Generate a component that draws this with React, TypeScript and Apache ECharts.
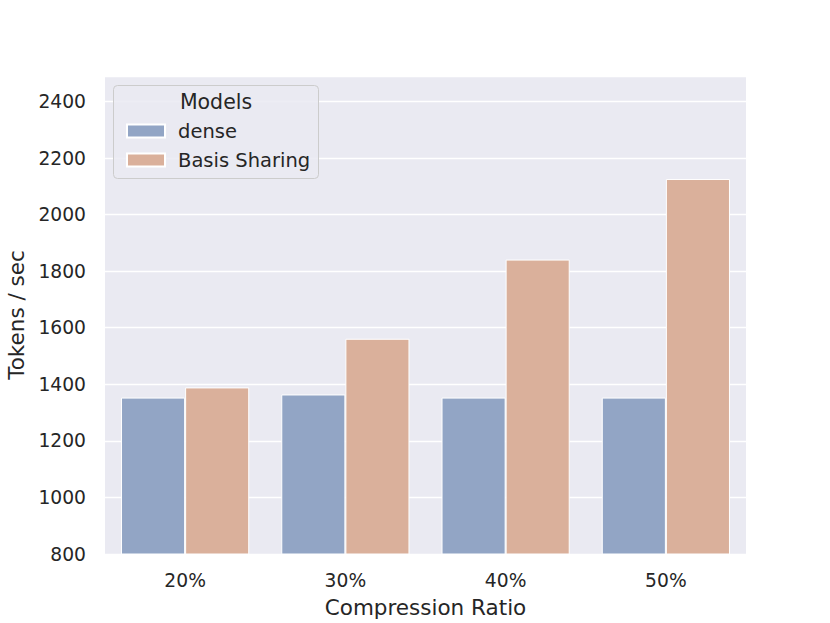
import React, { useEffect, useRef } from "react";
import * as echarts from "echarts";

const categories = ["20%", "30%", "40%", "50%"];
const denseValues = [1353, 1364, 1353, 1353];
const basisValues = [1389, 1561, 1841, 2126];
const seriesNames = ["dense", "Basis Sharing"];

const FONT = "DejaVu Sans";

export default function App() {
  const ref = useRef<HTMLDivElement>(null);
  useEffect(() => {
    if (!ref.current) return;
    const chart = echarts.init(ref.current, null, { renderer: "svg" });
    chart.setOption({
      animation: false,
      textStyle: { fontFamily: FONT },
      grid: {
        left: 105,
        right: 84,
        top: 76,
        bottom: 69,
        containLabel: false,
        outerBoundsMode: "none",
        backgroundColor: "#EAEAF2",
        show: true,
        borderWidth: 0,
      },
      xAxis: {
        type: "category",
        data: categories,
        name: "Compression Ratio",
        nameLocation: "middle",
        nameGap: 42,
        nameTextStyle: { fontSize: 21.5, color: "#262626", fontFamily: FONT },
        axisLine: { show: false },
        axisTick: { show: false },
        axisLabel: { fontSize: 18.7, color: "#262626", margin: 17, fontFamily: FONT },
      },
      yAxis: {
        type: "value",
        min: 800,
        max: 2490,
        interval: 200,
        name: "Tokens / sec",
        nameLocation: "middle",
        nameGap: 75,
        nameTextStyle: { fontSize: 21.5, color: "#262626", fontFamily: FONT },
        axisLine: { show: false },
        axisTick: { show: false },
        axisLabel: {
          fontSize: 18.7,
          color: "#262626",
          margin: 19,
          showMaxLabel: false,
          fontFamily: FONT,
          formatter: (v: number) => String(v),
        },
        splitLine: { lineStyle: { color: "#FFFFFF", width: 1.3 } },
      },
      legend: {
        orient: "vertical",
        left: 121,
        top: 116,
        z: 6,
        itemWidth: 38,
        itemHeight: 13,
        itemGap: 9,
        icon: "rect",
        textStyle: { fontSize: 19.5, color: "#262626", fontFamily: FONT, padding: [0, 0, 0, 8] },
        data: seriesNames,
      },
      graphic: [
        {
          type: "rect",
          z: 5,
          shape: { x: 113.5, y: 85.5, width: 205, height: 93, r: 4 },
          style: { fill: "rgba(234,234,242,0.85)", stroke: "#CCCCCC", lineWidth: 1 },
        },
        {
          type: "text",
          z: 6,
          x: 216,
          y: 102,
          style: { text: "Models", fontSize: 20.5, fill: "#262626", fontFamily: FONT, align: "center", verticalAlign: "middle" },
        },
      ],
      series: [
        {
          name: seriesNames[0],
          type: "bar",
          data: denseValues,
          barGap: "0%",
          barCategoryGap: "20%",
          itemStyle: { color: "#92A5C5", borderColor: "#FFFFFF", borderWidth: 1 },
        },
        {
          name: seriesNames[1],
          type: "bar",
          data: basisValues,
          itemStyle: { color: "#DAB09B", borderColor: "#FFFFFF", borderWidth: 1 },
        },
      ],
    });
    return () => chart.dispose();
  }, []);
  return <div ref={ref} style={{ width: 830, height: 623, position: "absolute", left: 0, top: 0 }} />;
}
